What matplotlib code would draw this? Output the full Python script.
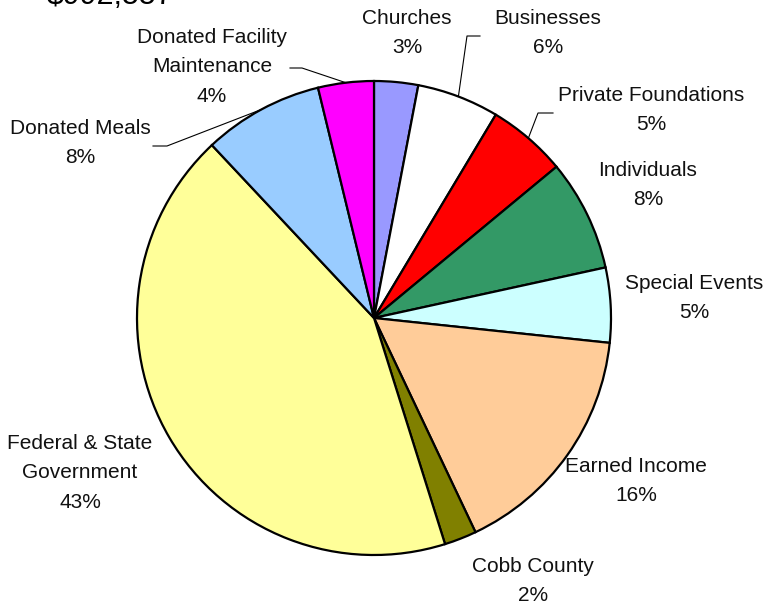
import matplotlib
matplotlib.use("Agg")
import matplotlib.pyplot as plt
import numpy as np

# ---------------------------------------------------------------------------
# Data (share of revenue; clockwise from 12 o'clock)
# ---------------------------------------------------------------------------
sources = ["Churches", "Businesses", "Private Foundations", "Individuals",
           "Special Events", "Earned Income", "Cobb County",
           "Federal & State\nGovernment", "Donated Meals",
           "Donated Facility\nMaintenance"]
shares = [3.0, 5.6, 5.4, 7.6, 5.1, 16.3, 2.2, 42.9, 8.2, 3.8]
colors = ["#9999FF", "#FFFFFF", "#FF0000", "#339966", "#CCFFFF",
          "#FFCC99", "#808000", "#FFFF99", "#99CCFF", "#FF00FF"]
title_text = "$992,557"

# ---------------------------------------------------------------------------
# Layout (pixel space, y up)
# ---------------------------------------------------------------------------
W, H = 772, 604
CX, CY, R = 374, H - 318, 237
FONT = "Liberation Sans"
FS = 15

# label centres (x, y from top)
label_pos = [(407, 33), (548, 33), (651, 110), (648, 185), (694, 298),
             (636, 481), (533, 581), (80, 473), (80, 143), (212, 67)]
# leader lines: (slice index, knee, end), y from top
leaders = [(1, (467, 36), (480, 36)),
           (2, (538, 113), (553, 113)),
           (8, (167, 146), (153, 146)),
           (9, (302, 68), (290, 68))]

fig = plt.figure(figsize=(W / 100, H / 100), dpi=100)
ax = fig.add_axes([0, 0, 1, 1])

wedges, _ = ax.pie(shares, colors=colors, startangle=90, counterclock=False,
                   center=(CX, CY), radius=R, frame=True,
                   wedgeprops=dict(edgecolor="black", linewidth=1.6))
ax.set_xlim(0, W)
ax.set_ylim(0, H)
ax.set_aspect("equal")
ax.axis("off")

total = sum(shares)
for name, v, (lx, ly) in zip(sources, shares, label_pos):
    ax.text(lx, H - ly, f"{name}\n{v / total * 100:.0f}%", ha="center",
            va="center", fontsize=FS, family=FONT, linespacing=1.7,
            color="#111111")

# leader lines from slice mid-angle on the rim
for idx, (kx, ky), (ex, ey) in leaders:
    w = wedges[idx]
    mid = np.deg2rad((w.theta1 + w.theta2) / 2)
    px, py = CX + R * np.cos(mid), CY + R * np.sin(mid)
    ax.plot([px, kx, ex], [py, H - ky, H - ey], color="black", lw=0.8)

# title, mostly cut off by the top edge (as in the source image)
ax.text(47, H - 4, title_text, ha="left", va="baseline", fontsize=22,
        family=FONT, color="black", clip_on=False)

fig.savefig("out.png", dpi=100, facecolor="white")
